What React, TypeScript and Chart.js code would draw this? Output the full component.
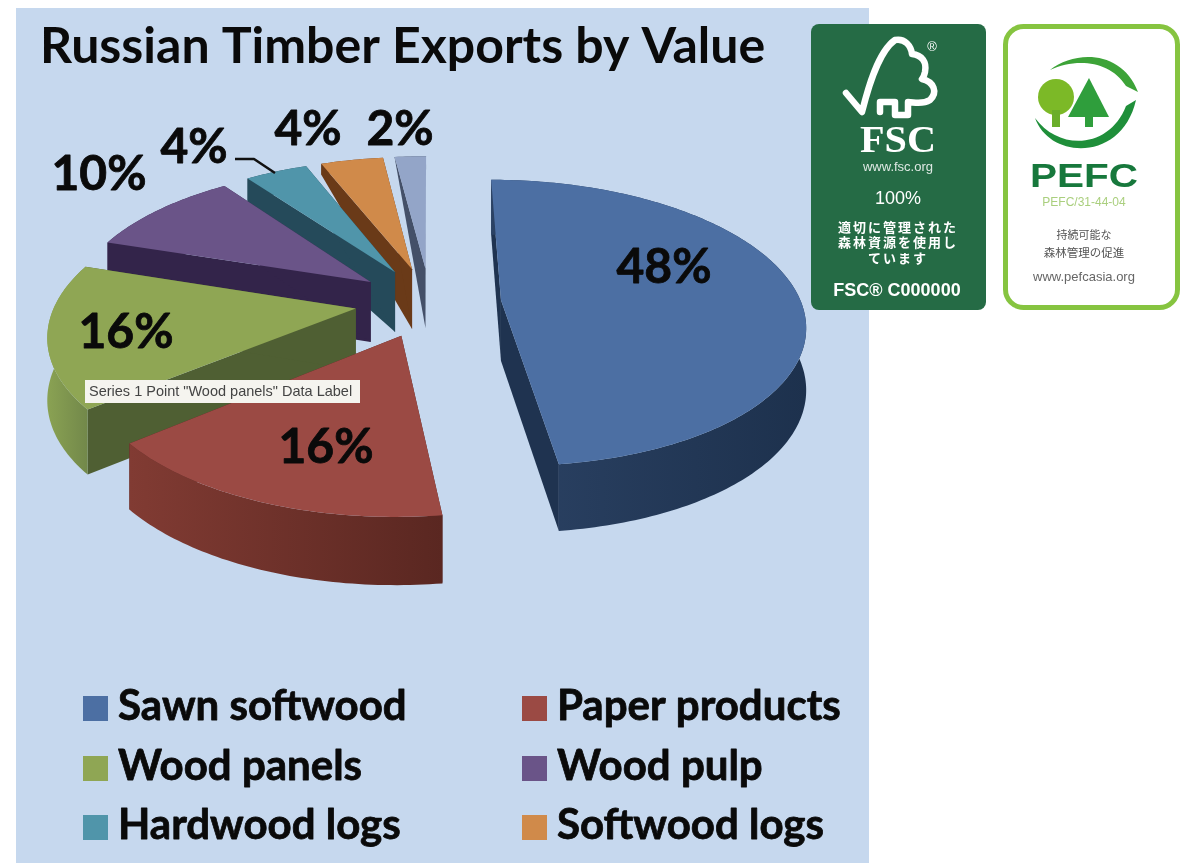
import React, { useEffect, useRef } from "react";
import { Chart, registerables } from "chart.js";

Chart.register(...registerables);

const categories = ["Sawn softwood", "Paper products", "Wood panels", "Wood pulp", "Hardwood logs", "Softwood logs", "Other"];
const shares = [48, 16, 16, 10, 4, 4, 2];
const chartTitle = "Russian Timber Exports by Value";
const hoverNote = 'Series 1 Point "Wood panels" Data Label';

const topColors = ["#4c6fa3", "#9b4a44", "#8fa654", "#6a5488", "#5095aa", "#d08a4a", "#93a5c8"];
const cutColors = ["#1f3350", "#4f2420", "#4f5f33", "#33244a", "#254a5a", "#6a3a18", "#445068"];
const wallLeft = ["#2b4264", "#813b33", "#8aa253", "#33244a", "#254a5a", "#6a3a18", "#445068"];
const wallRight = ["#1d314d", "#5a2721", "#72884a", "#33244a", "#254a5a", "#6a3a18", "#445068"];
const sliceOffsets = [57, 60, 60, 60, 60, 60, 60];
const rimDepth = [1, 1, 1, 1, 0.42, 0.2, 0.02];

const labelCenters = [[664, 268], [326, 448], [126, 333], [99, 175], [194, 148], [308, 130], [400, 130]];
const legendSlots = [[83, 696], [522, 696], [83, 756], [522, 756], [83, 815], [522, 815]];

const CX = 430, CY = 302, RX = 300, RY = 140, K = 0.16, DEPTH = 61;
const FONT = "Lato, 'Noto Sans', sans-serif";

function proj(x: number, y: number, down: number) {
  const w = 1 + K * y;
  return [CX + (RX * x) / w, CY - (RY * y) / w + down * DEPTH * (1 + 0.6 * (1 - w))];
}

const pie3d = {
  id: "pie3d",
  beforeDatasetsDraw(chart: any) {
    const ctx = chart.ctx;
    const arcs = chart.getDatasetMeta(0).data;
    ctx.save();
    for (let i = arcs.length - 1; i >= 0; i--) {
      const arc = arcs[i];
      const a = arc.startAngle + Math.PI / 2;
      const b = arc.endAngle + Math.PI / 2;
      const mid = (a + b) / 2;
      const e = arc.options.offset / arc.outerRadius;
      const ex = e * Math.sin(mid), ey = e * Math.cos(mid);
      const steps = Math.max(2, Math.ceil(((b - a) * 180) / Math.PI));
      const rim: number[][] = [];
      for (let s = 0; s <= steps; s++) {
        const t = a + ((b - a) * s) / steps;
        rim.push([ex + Math.sin(t), ey + Math.cos(t)]);
      }
      const poly = (pts: number[][], fill: any) => {
        ctx.beginPath();
        pts.forEach((p, n) => (n ? ctx.lineTo(p[0], p[1]) : ctx.moveTo(p[0], p[1])));
        ctx.closePath();
        ctx.fillStyle = fill;
        ctx.fill();
      };
      const d = rimDepth[i];
      const first = rim[0], last = rim[rim.length - 1];
      poly([proj(ex, ey, 0), proj(ex, ey, 1), proj(first[0], first[1], d), proj(first[0], first[1], 0)], cutColors[i]);
      poly([proj(ex, ey, 0), proj(ex, ey, 1), proj(last[0], last[1], d), proj(last[0], last[1], 0)], cutColors[i]);
      const topRim = rim.map((p) => proj(p[0], p[1], 0));
      const lowRim = rim.map((p) => proj(p[0], p[1], d)).reverse();
      const xs = topRim.map((p) => p[0]);
      const grad = ctx.createLinearGradient(Math.min(...xs), 0, Math.max(...xs), 0);
      grad.addColorStop(0, wallLeft[i]);
      grad.addColorStop(1, wallRight[i]);
      poly([...topRim, ...lowRim], grad);
      poly([proj(ex, ey, 0), ...topRim], topColors[i]);
    }
    ctx.restore();
    return false;
  },
  afterDraw(chart: any) {
    const ctx = chart.ctx;
    ctx.save();
    ctx.fillStyle = "#0a0a0a";
    ctx.strokeStyle = "#0a0a0a";
    ctx.lineWidth = 0.8;
    ctx.lineJoin = "round";
    ctx.textAlign = "center";
    ctx.textBaseline = "middle";
    ctx.font = `bold 48px ${FONT}`;
    shares.forEach((v, i) => {
      ctx.fillText(`${v}%`, labelCenters[i][0], labelCenters[i][1]);
      ctx.strokeText(`${v}%`, labelCenters[i][0], labelCenters[i][1]);
    });

    ctx.strokeStyle = "#111";
    ctx.lineWidth = 2.5;
    ctx.beginPath();
    ctx.moveTo(235, 159);
    ctx.lineTo(254, 159);
    ctx.lineTo(275, 173);
    ctx.stroke();

    ctx.fillStyle = "#f5f4ef";
    ctx.fillRect(85, 380, 275, 23);
    ctx.fillStyle = "#444";
    ctx.textAlign = "left";
    ctx.font = "14.5px 'Liberation Sans', sans-serif";
    ctx.fillText(hoverNote, 89, 392);

    ctx.font = `bold 42px ${FONT}`;
    ctx.textBaseline = "alphabetic";
    ctx.lineWidth = 0.8;
    ctx.strokeStyle = "#0a0a0a";
    legendSlots.forEach((slot, i) => {
      ctx.fillStyle = topColors[i];
      ctx.fillRect(slot[0], slot[1], 25, 25);
      ctx.fillStyle = "#0a0a0a";
      ctx.fillText(categories[i], slot[0] + 35, slot[1] + 24);
      ctx.strokeText(categories[i], slot[0] + 35, slot[1] + 24);
    });
    ctx.restore();
  },
};

function Logos() {
  const jp = "'Noto Sans CJK JP', sans-serif";
  const sans = "'Liberation Sans', sans-serif";
  return (
    <svg width={1184} height={863} style={{ position: "absolute", left: 0, top: 0, filter: "blur(0.6px)" }}>
      <rect x={811} y={24} width={175} height={286} rx={8} fill="#256b45" />
      <path
        d="M846 93 L862 112 C868 88 878 52 895 40 C905 38 911 46 912 54 C922 55 927 62 925 72 C924 76 923 78 922 79 C934 82 938 92 930 100 C922 105 914 102 908 102 L908 115 L895 115 L895 102 L880 102 L880 112"
        fill="none"
        stroke="#fff"
        strokeWidth="6.5"
        strokeLinejoin="round"
        strokeLinecap="round"
      />
      <g fill="#fff" textAnchor="middle">
        <text x={932} y={51} fontFamily={sans} fontSize={13}>®</text>
        <text x={898} y={152} fontFamily="'Liberation Serif', serif" fontWeight="bold" fontSize={38} textLength={76} lengthAdjust="spacingAndGlyphs">FSC</text>
        <text x={898} y={171} fontFamily={sans} fontSize={13} opacity={0.85}>www.fsc.org</text>
        <text x={898} y={204} fontFamily={sans} fontSize={18}>100%</text>
        <text x={898} y={232} fontFamily={jp} fontSize={13} fontWeight="bold" letterSpacing={2}>適切に管理された</text>
        <text x={898} y={247} fontFamily={jp} fontSize={13} fontWeight="bold" letterSpacing={2}>森林資源を使用し</text>
        <text x={898} y={263} fontFamily={jp} fontSize={13} fontWeight="bold" letterSpacing={2}>ています</text>
        <text x={897} y={296} fontFamily={sans} fontSize={18} fontWeight="bold">FSC® C000000</text>
      </g>
      <rect x={1005.5} y={26.5} width={172} height={281} rx={18} fill="#fff" stroke="#86c440" strokeWidth={5} />
      <path d="M1050 70 C1075 50 1122 50 1138 92 L1126 86 C1110 60 1075 58 1050 70 Z" fill="#3da338" />
      <path d="M1035 118 C1050 160 1122 162 1136 100 L1126 106 C1110 148 1060 152 1035 118 Z" fill="#1f8f3a" />
      <circle cx={1056} cy={97} r={18} fill="#7cb927" />
      <rect x={1052} y={110} width={8} height={17} fill="#6aae2a" />
      <path d="M1089 78 L1109 117 L1068 117 Z" fill="#2f9e3c" />
      <rect x={1085} y={115} width={8} height={12} fill="#2f9e3c" />
      <text x={1084} y={187} textAnchor="middle" fontFamily={sans} fontWeight="bold" fontSize={33} fill="#17783c" textLength={108} lengthAdjust="spacingAndGlyphs">PEFC</text>
      <g textAnchor="middle">
        <text x={1084} y={206} fontFamily={sans} fontSize={12} fill="#aacf7e">PEFC/31-44-04</text>
        <text x={1084} y={239} fontFamily={jp} fontSize={11} fill="#555">持続可能な</text>
        <text x={1084} y={257} fontFamily={jp} fontSize={11.5} fill="#555">森林管理の促進</text>
        <text x={1084} y={281} fontFamily={sans} fontSize={13} fill="#666">www.pefcasia.org</text>
      </g>
    </svg>
  );
}

export default function App() {
  const ref = useRef<HTMLCanvasElement>(null);
  useEffect(() => {
    const chart = new Chart(ref.current as HTMLCanvasElement, {
      type: "pie",
      data: {
        labels: categories,
        datasets: [{ data: shares, backgroundColor: topColors, offset: sliceOffsets, radius: 240, borderWidth: 0 } as any],
      },
      options: {
        animation: false,
        responsive: false,
        layout: { padding: { left: 40, top: 17 } },
        plugins: {
          legend: { display: false },
          tooltip: { enabled: false },
          title: {
            display: true,
            text: chartTitle,
            align: "start",
            color: "#0a0a0a",
            font: { family: FONT, weight: "bold", size: 50 },
            padding: 0,
          },
        },
      },
      plugins: [pie3d],
    } as any);
    return () => chart.destroy();
  }, []);
  return (
    <div style={{ position: "absolute", left: 0, top: 0, width: 1184, height: 863, overflow: "hidden", background: "#fff" }}>
      <div style={{ position: "absolute", left: 16, top: 8, width: 853, height: 855, background: "#c6d8ee" }} />
      <canvas ref={ref} width={1184} height={863} style={{ position: "absolute", left: 0, top: 0, filter: "blur(0.5px)" }} />
      <Logos />
    </div>
  );
}
